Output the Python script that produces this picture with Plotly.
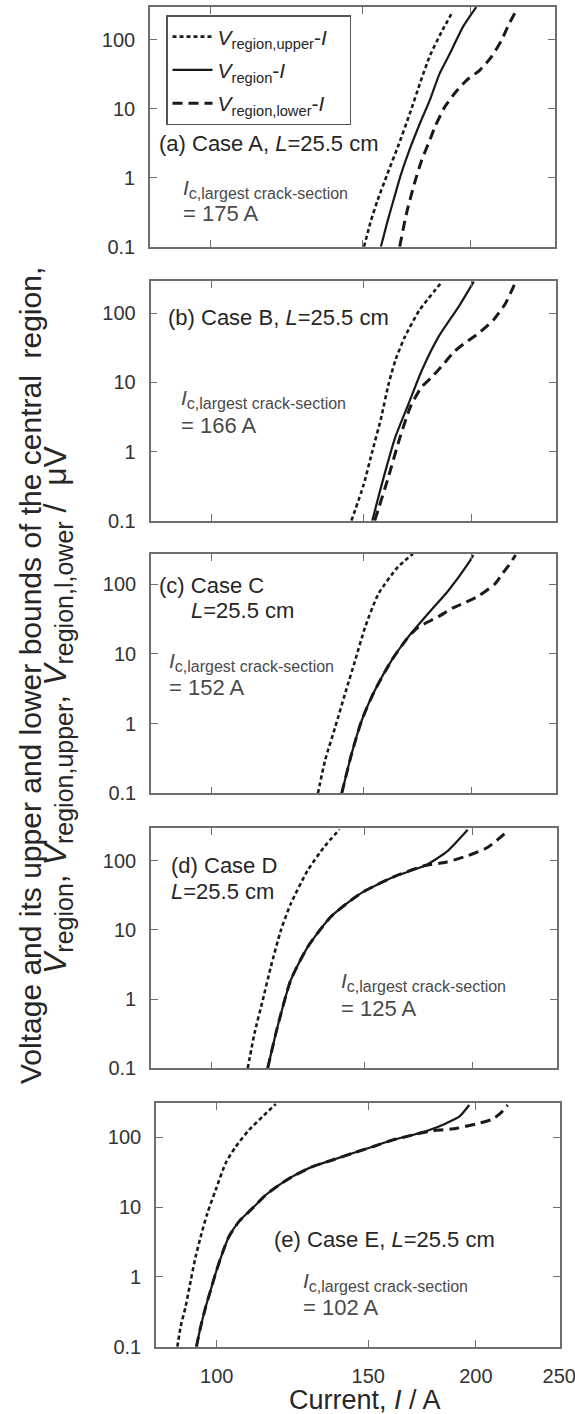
import plotly.graph_objects as go
import math

W, H = 575, 1414
FONT = "Liberation Sans, Arial, Helvetica, sans-serif"

# ---------------- data (current I [A], voltage V [uV]) ----------------
# Panel (a) Case A
a_up_I = [150.5, 153, 156, 160, 165, 170, 175, 179.5, 185, 190.6]
a_up_V = [0.1, 0.22, 0.47, 1.1, 3, 8.5, 25, 60, 130, 257]
a_mid_I = [157.4, 160, 163, 166, 170, 175, 179.4, 184, 189.3, 196, 203]
a_mid_V = [0.1, 0.22, 0.5, 1.1, 2.6, 6.5, 13.5, 32, 64, 156, 300]
a_low_I = [165.5, 168.5, 172, 175.5, 179.4, 181.8, 186.6, 191.8, 197.8, 205, 211.4, 217.3, 221, 225]
a_low_V = [0.1, 0.3, 0.8, 1.8, 3.54, 5.46, 10.6, 17, 26, 36.6, 57, 100, 160, 245]

# Panel (b) Case B
b_up_I = [145.2, 150, 153.5, 157, 160.5, 163.5, 167.5, 174, 184.9]
b_up_V = [0.1, 0.33, 1.0, 2.9, 10, 22, 46, 110, 287]
b_mid_I = [153.5, 158.3, 163.3, 169.2, 175.2, 183.2, 193.2, 201.2]
b_mid_V = [0.1, 0.43, 1.64, 5, 15, 46, 124, 287]
b_low_I = [154.5, 160, 165, 170, 175, 180, 186, 191, 197, 204, 212, 219, 225]
b_low_V = [0.1, 0.4, 1.5, 4.5, 8.5, 12, 19, 28, 38, 52, 80, 140, 287]

# Panel (c) Case C
c_up_I = [132.7, 135.3, 139, 142.7, 146.6, 150.5, 156, 164.4, 171]
c_up_V = [0.1, 0.3, 0.9, 2.7, 8.1, 24, 73, 177, 270]
c_mid_I = [141.4, 145.2, 149.2, 154.5, 161.6, 169, 178.2, 187.9, 198.2, 200.9]
c_mid_V = [0.1, 0.37, 1.12, 3, 8.1, 17.6, 38, 80, 197, 260]
c_low_I = [141.4, 145.2, 149.2, 154.5, 161.6, 169, 173.4, 183, 190, 197, 204, 212.8, 217, 220.5, 224.9]
c_low_V = [0.1, 0.37, 1.12, 3, 8.1, 17.6, 24, 34, 45, 55, 68, 100, 140, 180, 260]

# Panel (d) Case D
d_up_I = [110, 112, 114.5, 117, 120.2, 123.4, 129.1, 134.9, 140.5]
d_up_V = [0.1, 0.32, 0.97, 2.94, 10, 24, 73, 159, 284]
d_mid_I = [116, 119.1, 123.4, 129.1, 137.3, 148.8, 162.6, 176.5, 187, 197.7]
d_mid_V = [0.1, 0.4, 1.9, 5.7, 15.5, 34, 59, 85, 135, 280]
d_low_I = [116, 119.1, 123.4, 129.1, 137.3, 148.8, 162.6, 176.5, 186.5, 197.7, 208.4, 219.5]
d_low_V = [0.1, 0.4, 1.9, 5.7, 15.5, 34, 59, 85, 95, 118, 155, 263]

# Panel (e) Case E
e_up_I = [90, 90.8, 92, 93.3, 94.5, 95.8, 97.5, 99.7, 102.4, 105.2, 109, 113, 117.1]
e_up_V = [0.1, 0.194, 0.374, 0.9, 1.94, 3.77, 8.1, 17.6, 42.4, 73.3, 127, 197, 300]
e_mid_I = [94.7, 95.8, 97.1, 98.4, 99.7, 101.5, 103.3, 106.1, 110, 114, 118.1, 122.4,
           129.2, 136.3, 143.8, 151.7, 160.1, 168.9, 176.6, 184.6, 191.3, 196.5]
e_mid_V = [0.1, 0.194, 0.374, 0.65, 1.13, 2.18, 3.77, 6.2, 9.6, 14.9, 20.7, 27.3,
           38, 47.3, 59, 73.3, 91.4, 108, 127, 158, 197, 290]
e_low_I = [94.7, 95.8, 97.1, 98.4, 99.7, 101.5, 103.3, 106.1, 110, 114, 118.1, 122.4,
           129.2, 136.3, 143.8, 151.7, 160.1, 168.9, 176.6, 181.4, 189.7, 200, 209.2, 214, 217.8]
e_low_V = [0.1, 0.194, 0.374, 0.65, 1.13, 2.18, 3.77, 6.2, 9.6, 14.9, 20.7, 27.3,
           38, 47.3, 59, 73.3, 91.4, 108, 122, 127, 134, 155, 182, 225, 290]

x_ticks = [100, 150, 200, 250]
y_ticks = [0.1, 1, 10, 100]
y_tick_text = ["0.1", "1", "10", "100"]

panels = [
    (a_up_I, a_up_V, a_mid_I, a_mid_V, a_low_I, a_low_V),
    (b_up_I, b_up_V, b_mid_I, b_mid_V, b_low_I, b_low_V),
    (c_up_I, c_up_V, c_mid_I, c_mid_V, c_low_I, c_low_V),
    (d_up_I, d_up_V, d_mid_I, d_mid_V, d_low_I, d_low_V),
    (e_up_I, e_up_V, e_mid_I, e_mid_V, e_low_I, e_low_V),
]

# ---------------- layout geometry (pixels) ----------------
boxes = [  # x0, x1, y0(top), y1(bottom), ytop(log)
    (150, 555, 6.7, 246.7, 2.483),
    (150.5, 556, 281, 520.7, 2.467),
    (151, 556, 554, 793.3, 2.43),
    (151, 556.5, 828.3, 1068.3, 2.468),
    (156, 560, 1103.3, 1346.7, 2.487),
]

def px(x):
    return x / W

def py(y):
    return 1 - y / H

LINE = "#1a1a1a"
AX = "#6e6e6e"
styles = [
    dict(color=LINE, width=2.6, dash="4px,3px"),
    dict(color=LINE, width=2.2, dash="solid"),
    dict(color=LINE, width=3.0, dash="10px,6px"),
]
names = [
    "<i>V</i><sub>region,upper</sub>-<i>I</i>&nbsp;&nbsp;&nbsp;",
    "<i>V</i><sub>region</sub>-<i>I</i>",
    "<i>V</i><sub>region,lower</sub>-<i>I</i>",
]

fig = go.Figure()
layout = {}
for k, (p, b) in enumerate(zip(panels, boxes)):
    sfx = "" if k == 0 else str(k + 1)
    for j in range(3):
        fig.add_trace(go.Scatter(
            x=p[2 * j], y=p[2 * j + 1], mode="lines",
            line=dict(shape="spline", smoothing=0.6, **styles[j]),
            name=names[j], showlegend=(k == 0), legendgroup="g%d" % j,
            xaxis="x" + sfx, yaxis="y" + sfx,
        ))
    x0, x1, y0, y1, ytop = b
    last = (k == 4)
    layout["xaxis" + sfx] = dict(
        domain=[px(x0), px(x1)], anchor="y" + sfx, type="log",
        range=[math.log10(85), math.log10(250.5)],
        tickvals=x_ticks, ticktext=[str(v) for v in x_ticks],
        showticklabels=last, ticks="inside", ticklen=7, tickcolor=AX, tickwidth=1.3,
        showline=True, linecolor=AX, linewidth=1.6, mirror="allticks",
        showgrid=False, zeroline=False, automargin=False,
        tickfont=dict(family=FONT, size=20, color="#333"),
        ticklabelstandoff=10, ticklabeloverflow="allow",
    )
    layout["yaxis" + sfx] = dict(
        domain=[py(y1), py(y0)], anchor="x" + sfx, type="log",
        range=[-1, ytop],
        tickvals=y_ticks, ticktext=y_tick_text,
        ticks="inside", ticklen=7, tickcolor=AX, tickwidth=1.3,
        showline=True, linecolor=AX, linewidth=1.6, mirror="allticks",
        showgrid=False, zeroline=False, automargin=False,
        tickfont=dict(family=FONT, size=20, color="#333"),
        ticklabelstandoff=9, ticklabeloverflow="allow",
    )

DARK = "#262626"
GRAY = "#4a4a4a"

def ann(x, y, text, size=22, color=DARK, xanchor="left", angle=0):
    return dict(x=px(x), y=py(y), xref="paper", yref="paper", text=text,
                showarrow=False, xanchor=xanchor, yanchor="middle", textangle=angle,
                font=dict(family=FONT, size=size, color=color))

IC = '<i>I</i><sub><span style="font-size:16px">c,largest crack-section</span></sub>'
SUB = '<sub><span style="font-size:25px">%s</span></sub>'
annotations = [
    ann(157, 143, "(a) Case A, <i>L</i>=25.5 cm"),
    ann(181, 189, IC, 21, GRAY),
    ann(181, 213, "= 175 A", 22, GRAY),
    ann(166, 317, "(b) Case B, <i>L</i>=25.5 cm"),
    ann(179, 399, IC, 21, GRAY),
    ann(179, 425, "= 166 A", 22, GRAY),
    ann(157, 585, "(c) Case C"),
    ann(189, 610, "<i>L</i>=25.5 cm"),
    ann(167, 662, IC, 21, GRAY),
    ann(167, 688, "= 152 A", 22, GRAY),
    ann(169, 865, "(d) Case D"),
    ann(169, 891, "<i>L</i>=25.5 cm"),
    ann(339, 982, IC, 21, GRAY),
    ann(339, 1008, "= 125 A", 22, GRAY),
    ann(272, 1239, "(e) Case E, <i>L</i>=25.5 cm"),
    ann(301, 1282, IC, 21, GRAY),
    ann(301, 1307, "= 102 A", 22, GRAY),
    ann(365, 1400, "Current, <i>I</i> / A", 27, DARK, "center"),
    ann(30, 676, "Voltage and its upper and lower bounds of the central  region,", 30, DARK, "center", -90),
    ann(57, 710, ("<i>V</i>" + SUB + ", <i>V</i>" + SUB + ", <i>V</i>" + SUB + " /  μV")
        % ("region", "region,upper", "region,l,ower"),
        32, DARK, "center", -90),
]

fig.update_layout(
    width=W, height=H, margin=dict(l=0, r=0, t=0, b=0, autoexpand=False),
    paper_bgcolor="white", plot_bgcolor="white",
    font=dict(family=FONT, color=DARK),
    showlegend=True,
    legend=dict(x=px(166), y=py(15), xanchor="left", yanchor="top",
                bgcolor="white", bordercolor="#555", borderwidth=1.5,
                font=dict(family=FONT, size=21, color=DARK),
                tracegroupgap=3, itemwidth=40),
    annotations=annotations,
    **layout,
)

fig.write_html("out.html")
